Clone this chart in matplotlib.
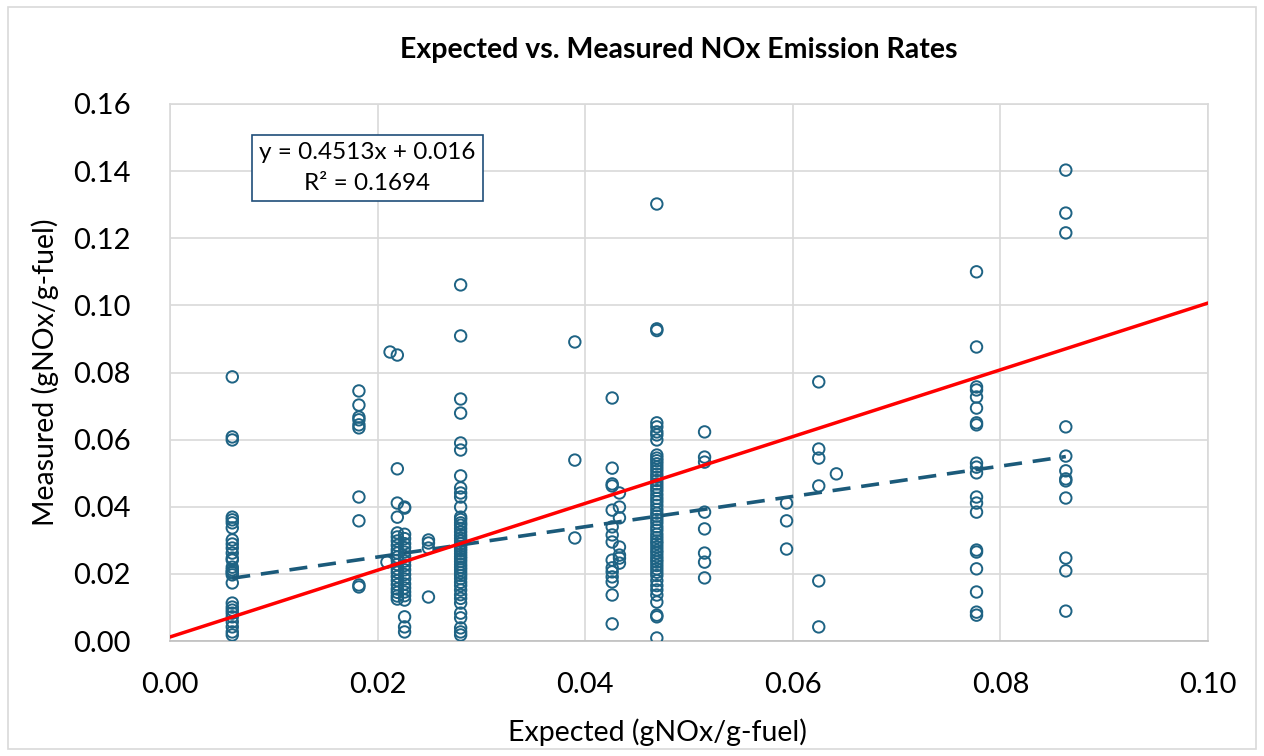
import matplotlib
matplotlib.use("Agg")
import matplotlib.pyplot as plt
from matplotlib.patches import Rectangle
from matplotlib.ticker import FormatStrFormatter
import numpy as np

plt.rcParams['font.family'] = ['Lato', 'DejaVu Sans']

# ---- data (expected x-value : list of measured values) ----
x_0060 = 0.0060
col_0060 = [0.0787, 0.0608, 0.0599, 0.0369, 0.0361, 0.0352, 0.0337, 0.0301, 0.0289, 0.0277,
            0.0262, 0.0247, 0.0241, 0.0220, 0.0212, 0.0206, 0.0203, 0.0197, 0.0173, 0.0113,
            0.0101, 0.0092, 0.0083, 0.0072, 0.0057, 0.0042, 0.0027, 0.0018]
x_0182 = 0.0182
col_0182 = [0.0745, 0.0703, 0.0667, 0.0659, 0.0644, 0.0635, 0.0429, 0.0358, 0.0167, 0.0161]
x_0209 = 0.0209
col_0209 = [0.0235]
x_0212 = 0.0212
col_0212 = [0.0861]
x_0219 = 0.0219
col_0219 = [0.0852, 0.0513, 0.0411, 0.0369, 0.0322, 0.0310, 0.0298, 0.0285, 0.0272, 0.0262,
            0.0250, 0.0240, 0.0228, 0.0215, 0.0205, 0.0192, 0.0180, 0.0168, 0.0155, 0.0145,
            0.0134, 0.0125]
x_0226 = 0.0226
col_0226 = [0.0399, 0.0396, 0.0318, 0.0305, 0.0290, 0.0278, 0.0265, 0.0252, 0.0238, 0.0225,
            0.0212, 0.0198, 0.0185, 0.0170, 0.0158, 0.0146, 0.0135, 0.0122, 0.0072, 0.0042,
            0.0027]
x_0249 = 0.0249
col_0249 = [0.0301, 0.0292, 0.0277, 0.0131]
x_0280 = 0.0280
col_0280 = [0.1061, 0.0909, 0.0721, 0.0679, 0.0590, 0.0569, 0.0492, 0.0456, 0.0441, 0.0429,
            0.0399, 0.0369, 0.0362, 0.0352, 0.0345, 0.0335, 0.0325, 0.0315, 0.0306, 0.0298,
            0.0290, 0.0282, 0.0275, 0.0268, 0.0260, 0.0252, 0.0245, 0.0237, 0.0228, 0.0220,
            0.0212, 0.0203, 0.0195, 0.0186, 0.0175, 0.0165, 0.0152, 0.0138, 0.0127, 0.0113,
            0.0083, 0.0069, 0.0039, 0.0027, 0.0018]
x_0390 = 0.0390
col_0390 = [0.0891, 0.0539, 0.0307]
x_0426 = 0.0426
col_0426 = [0.0724, 0.0515, 0.0468, 0.0462, 0.0390, 0.0340, 0.0316, 0.0295, 0.0241, 0.0218,
            0.0206, 0.0191, 0.0176, 0.0137, 0.0051]
x_0433 = 0.0433
col_0433 = [0.0441, 0.0399, 0.0367, 0.0280, 0.0256, 0.0247, 0.0232]
x_0469 = 0.0469
col_0469 = [0.1302, 0.0930, 0.0925, 0.0650, 0.0638, 0.0623, 0.0614, 0.0599, 0.0554, 0.0545,
            0.0537, 0.0528, 0.0518, 0.0508, 0.0497, 0.0488, 0.0478, 0.0468, 0.0458, 0.0448,
            0.0436, 0.0425, 0.0415, 0.0404, 0.0392, 0.0381, 0.0372, 0.0362, 0.0352, 0.0340,
            0.0330, 0.0318, 0.0308, 0.0298, 0.0290, 0.0280, 0.0270, 0.0262, 0.0252, 0.0243,
            0.0235, 0.0225, 0.0215, 0.0205, 0.0195, 0.0180, 0.0165, 0.0152, 0.0137, 0.0116,
            0.0077, 0.0072, 0.0009]
x_0515 = 0.0515
col_0515 = [0.0623, 0.0548, 0.0533, 0.0384, 0.0334, 0.0262, 0.0235, 0.0188]
x_0594 = 0.0594
col_0594 = [0.0411, 0.0358, 0.0274]
x_0625 = 0.0625
col_0625 = [0.0772, 0.0572, 0.0545, 0.0462, 0.0179, 0.0042]
x_0642 = 0.0642
col_0642 = [0.0498]
x_0777 = 0.0777
col_0777 = [0.1100, 0.0876, 0.0757, 0.0748, 0.0727, 0.0694, 0.0650, 0.0644, 0.0530, 0.0518,
            0.0501, 0.0429, 0.0411, 0.0384, 0.0271, 0.0265, 0.0215, 0.0146, 0.0086, 0.0077]
x_0863 = 0.0863
col_0863 = [0.1403, 0.1275, 0.1216, 0.0638, 0.0551, 0.0507, 0.0483, 0.0477, 0.0426, 0.0247,
            0.0209, 0.0089]

# trendline (as displayed) and reference line
trend_slope = 0.4513
trend_intercept = 0.016
equation_text = "y = 0.4513x + 0.016\nR\u00b2 = 0.1694"
ref_line_x = [0.0, 0.1]
ref_line_y = [0.0012, 0.1007]

title = "Expected vs. Measured NOx Emission Rates"
xlabel = "Expected (gNOx/g-fuel)"
ylabel = "Measured (gNOx/g-fuel)"
xticks = [0.00, 0.02, 0.04, 0.06, 0.08, 0.10]
yticks = [0.00, 0.02, 0.04, 0.06, 0.08, 0.10, 0.12, 0.14, 0.16]

groups = [(x_0060, col_0060), (x_0182, col_0182), (x_0209, col_0209), (x_0212, col_0212),
          (x_0219, col_0219), (x_0226, col_0226), (x_0249, col_0249), (x_0280, col_0280),
          (x_0390, col_0390), (x_0426, col_0426), (x_0433, col_0433), (x_0469, col_0469),
          (x_0515, col_0515), (x_0594, col_0594), (x_0625, col_0625), (x_0642, col_0642),
          (x_0777, col_0777), (x_0863, col_0863)]
expected = np.concatenate([[gx] * len(gy) for gx, gy in groups])
measured = np.concatenate([gy for gx, gy in groups])

# ---- plot ----
W, H = 1264, 756
marker_color = '#1E6384'
fig = plt.figure(figsize=(W / 100, H / 100), dpi=100)
fig.patches.append(Rectangle((0.006, 0.009), 0.988, 0.982, transform=fig.transFigure,
                             fill=False, edgecolor='#D9D9D9', linewidth=1.2))
ax = fig.add_axes([170 / W, 1 - 641 / H, (1208 - 170) / W, (641 - 104) / H])

ax.grid(True, color='#D9D9D9', linewidth=1.2, zorder=0)
ax.set_axisbelow(True)
for s in ax.spines.values():
    s.set_color('#D9D9D9')
    s.set_linewidth(1.2)
ax.spines['bottom'].set_color('#BFBFBF')

ax.scatter(expected, measured, s=68, facecolors='none', edgecolors=marker_color,
           linewidths=1.4, zorder=3)

tx = np.array([expected.min(), expected.max()])
ax.plot(tx, trend_slope * tx + trend_intercept, linestyle=(0, (5, 3)), color='#1B5A7A',
        linewidth=2.6, zorder=4)
ax.plot(ref_line_x, ref_line_y, color='#FF0000', linewidth=2.5, zorder=5)

ax.set_xlim(0, 0.10)
ax.set_ylim(0, 0.16)
ax.set_xticks(xticks)
ax.set_yticks(yticks)
ax.xaxis.set_major_formatter(FormatStrFormatter('%.2f'))
ax.yaxis.set_major_formatter(FormatStrFormatter('%.2f'))
ax.tick_params(axis='x', length=0, labelsize=21, colors='black', pad=22)
ax.tick_params(axis='y', length=0, labelsize=21, colors='black', pad=28)

fig.text(657 / W, 1 - 732 / H, xlabel, ha='center', va='center', fontsize=20.5)
fig.text(45 / W, 1 - 372 / H, ylabel, ha='center', va='center', fontsize=20.5, rotation=90)
fig.text(679 / W, 1 - 50 / H, title, ha='center', va='center', fontsize=20.5, fontweight='bold')

fig.text((250 + 485) / 2 / W, 1 - 168 / H, equation_text,
         ha='center', va='center', fontsize=17.5, linespacing=1.55, zorder=6,
         bbox=dict(boxstyle='square,pad=0.3', facecolor='white', edgecolor='#1F4E79',
                   linewidth=1.2))

fig.savefig('out.png', dpi=100)
